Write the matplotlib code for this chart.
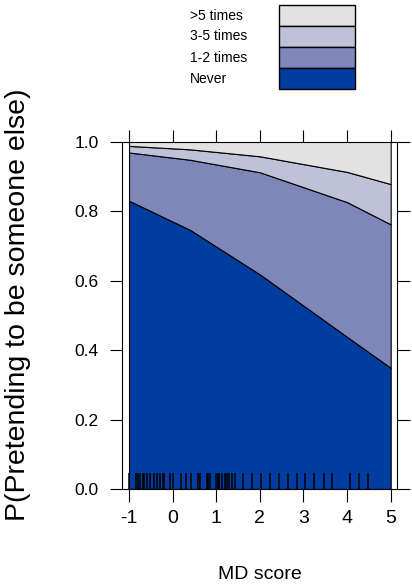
import matplotlib
matplotlib.use("Agg")
import matplotlib.pyplot as plt
from matplotlib.patches import Rectangle

plt.rcParams["font.family"] = ["Liberation Sans", "DejaVu Sans"]

# effect values, at the points where the curves bend
md_score = [-1.0, 0.4, 2.0, 4.0, 5.0]
p_never = [0.830, 0.746, 0.618, 0.438, 0.349]       # top of "Never"
cum_12 = [0.969, 0.948, 0.912, 0.826, 0.762]        # top of "1-2 times"
cum_35 = [0.988, 0.978, 0.958, 0.913, 0.878]        # top of "3-5 times"
cum_5 = [1.0, 1.0, 1.0, 1.0, 1.0]                   # top of ">5 times"

categories = ["Never", "1-2 times", "3-5 times", ">5 times"]
colors = ["#003DA0", "#7E86BA", "#BEC1D8", "#E2E2E2"]

# observed MD scores (rug)
rug = [-1.0, -0.85, -0.80, -0.75, -0.69, -0.65, -0.59, -0.53, -0.42, -0.37,
       -0.29, -0.23, -0.19, -0.06, 0.0, 0.19, 0.31, 0.41, 0.59, 0.63, 0.78,
       0.82, 0.86, 1.0, 1.03, 1.07, 1.13, 1.20, 1.24, 1.30, 1.36, 1.43, 1.61,
       1.81, 2.03, 2.23, 2.44, 2.64, 2.85, 3.04, 3.25, 3.46, 3.66, 4.07, 4.28,
       4.47]

x_ticks = [-1, 0, 1, 2, 3, 4, 5]
y_ticks = [0.0, 0.2, 0.4, 0.6, 0.8, 1.0]

W, H = 412, 588
fig = plt.figure(figsize=(W / 100, H / 100), dpi=100)
ax = fig.add_axes([0.2973, 0.1684, 0.6658, 0.5906])

lower = [0.0] * len(md_score)
for top, col in zip([p_never, cum_12, cum_35, cum_5], colors):
    ax.fill_between(md_score, lower, top, facecolor=col, edgecolor="black",
                    linewidth=0.8)
    lower = top

ax.vlines(rug, 0, 0.047, color="black", linewidth=1.1)

ax.set_xlim(-1.15, 5.14)
ax.set_ylim(0, 1)
ax.set_xticks(x_ticks)
ax.set_xticklabels([str(v) for v in x_ticks], fontsize=14)
ax.set_yticks(y_ticks)
ax.set_yticklabels([f"{v:.1f}" for v in y_ticks], fontsize=12.5)
ax.tick_params(direction="out", length=9, width=0.8, top=True, right=True,
               labeltop=False, labelright=False)
ax.tick_params(axis="y", pad=8)
ax.tick_params(axis="x", pad=6)
for s in ax.spines.values():
    s.set_linewidth(0.8)

ax.set_xlabel("MD score", fontsize=14, labelpad=28)
fig.text(18 / W, 1 - 305 / H, "P(Pretending to be someone else)",
         rotation=90, ha="center", va="center", fontsize=20.5)

# key on top: text column on the left, stacked rectangles on the right
row_h = 21
for i, (lab, col) in enumerate(zip(categories[::-1], colors[::-1])):
    y0 = 5 + i * row_h
    fig.add_artist(Rectangle((279 / W, 1 - (y0 + row_h) / H), 76 / W, row_h / H,
                             transform=fig.transFigure, facecolor=col,
                             edgecolor="black", linewidth=1.0))
    fig.text(190 / W, 1 - (y0 + row_h / 2) / H, lab, ha="left", va="center",
             fontsize=10)

fig.savefig("out.png", dpi=100)
